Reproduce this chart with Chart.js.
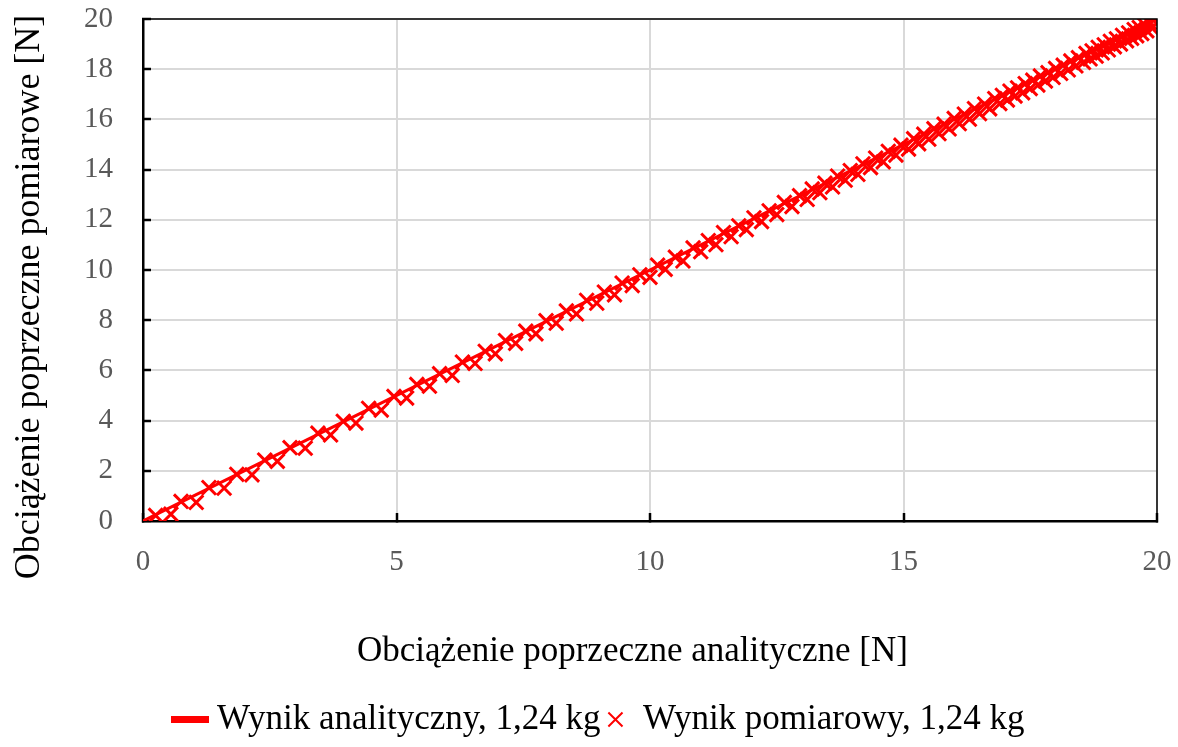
<!DOCTYPE html>
<html>
<head>
<meta charset="utf-8">
<script src="https://cdn.jsdelivr.net/npm/chart.js@4/dist/chart.umd.min.js"></script>
<style>
  html, body { margin: 0; padding: 0; background: #fff; }
  #wrap { width: 1178px; height: 747px; }
</style>
</head>
<body>
<div id="wrap"><canvas id="myChart"></canvas></div>
<script>
// analytical result: straight line y = x
var analyticX = [0, 20];
var analyticY = [0, 20];

// measured points, loading pass
var loadX = [0.25, 0.75, 1.3, 1.85, 2.4, 2.9, 3.45, 3.95, 4.45, 4.95, 5.4, 5.85, 6.3, 6.75, 7.15, 7.55, 7.95, 8.35, 8.75, 9.1,
  9.45, 9.8, 10.15, 10.5, 10.85, 11.15, 11.45, 11.75, 12.05, 12.35, 12.65, 12.95, 13.2, 13.45, 13.7, 13.95, 14.2, 14.45, 14.7, 14.95,
  15.2, 15.4, 15.6, 15.8, 16.0, 16.2, 16.4, 16.6, 16.8, 16.95, 17.1, 17.25, 17.4, 17.55, 17.7, 17.85, 18.0, 18.15, 18.3, 18.45,
  18.6, 18.72, 18.84, 18.96, 19.08, 19.2, 19.32, 19.44, 19.55, 19.65, 19.75, 19.85, 19.93];
var loadY = [0.22, 0.78, 1.33, 1.86, 2.43, 2.92, 3.5, 3.97, 4.49, 4.96, 5.44, 5.87, 6.33, 6.76, 7.19, 7.56, 7.98, 8.37, 8.79, 9.12,
  9.48, 9.81, 10.19, 10.51, 10.88, 11.17, 11.49, 11.76, 12.08, 12.36, 12.69, 12.96, 13.23, 13.46, 13.74, 13.96, 14.23, 14.46, 14.73, 14.97,
  15.23, 15.41, 15.63, 15.81, 16.04, 16.21, 16.43, 16.61, 16.83, 16.96, 17.13, 17.26, 17.43, 17.56, 17.73, 17.86, 18.03, 18.16, 18.33, 18.46,
  18.63, 18.73, 18.87, 18.97, 19.11, 19.21, 19.35, 19.45, 19.58, 19.66, 19.78, 19.86, 19.95];

// measured points, unloading pass
var unloadX = [19.9, 19.8, 19.7, 19.6, 19.5, 19.4, 19.28, 19.16, 19.04, 18.92, 18.8, 18.68, 18.55, 18.4, 18.25, 18.1, 17.95, 17.8, 17.65, 17.5,
  17.35, 17.2, 17.05, 16.9, 16.7, 16.5, 16.3, 16.1, 15.9, 15.7, 15.5, 15.3, 15.1, 14.85, 14.6, 14.35, 14.1, 13.85, 13.6, 13.35,
  13.1, 12.8, 12.5, 12.2, 11.9, 11.6, 11.3, 11.0, 10.65, 10.3, 10.0, 9.65, 9.3, 8.95, 8.55, 8.15, 7.75, 7.35, 6.95, 6.55,
  6.1, 5.65, 5.2, 4.7, 4.2, 3.7, 3.2, 2.65, 2.15, 1.6, 1.05, 0.55];
var unloadY = [19.64, 19.53, 19.42, 19.33, 19.23, 19.13, 19.0, 18.89, 18.77, 18.65, 18.52, 18.41, 18.27, 18.13, 17.97, 17.83, 17.67, 17.53, 17.37, 17.23,
  17.06, 16.93, 16.77, 16.63, 16.42, 16.23, 16.01, 15.83, 15.62, 15.43, 15.21, 15.03, 14.82, 14.58, 14.31, 14.08, 13.81, 13.58, 13.31, 13.08,
  12.81, 12.53, 12.21, 11.93, 11.61, 11.33, 11.01, 10.73, 10.36, 10.03, 9.71, 9.38, 9.01, 8.68, 8.25, 7.88, 7.46, 7.08, 6.66, 6.28,
  5.8, 5.37, 4.9, 4.42, 3.9, 3.43, 2.9, 2.38, 1.84, 1.31, 0.74, 0.27];

var seriesNames = ['Wynik analityczny, 1,24 kg', 'Wynik pomiarowy, 1,24 kg'];
// trailing spaces nudge the centred titles along their axis
var xTitle = 'Obciążenie poprzeczne analityczne [N]    ';
var yTitle = 'Obciążenie poprzeczne pomiarowe [N]      ';

function toPoints(xs, ys) {
  var pts = [];
  xs.forEach((x, i) => pts.push({x: x, y: ys[i]}));
  return pts;
}

var measured = toPoints(loadX, loadY).concat(toPoints(unloadX, unloadY));
var analytic = toPoints(analyticX, analyticY);

var red = 'rgb(255, 0, 0)';
var tickGray = '#595959';
var serif = "'Liberation Serif', 'Times New Roman', serif";

// legend swatch for the analytical line: a short thick bar
var lineSwatch = document.createElement('canvas');
lineSwatch.width = 38;
lineSwatch.height = 7;
var sw = lineSwatch.getContext('2d');
sw.fillStyle = red;
sw.fillRect(0, 0, 38, 7);

// thin black frame on the top and right side of the plot area
const frame = {
  id: 'frame',
  afterDraw(chart) {
    const a = chart.chartArea;
    const c = chart.ctx;
    c.save();
    c.strokeStyle = '#000';
    c.lineWidth = 1.5;
    c.beginPath();
    c.moveTo(a.left, a.top);
    c.lineTo(a.right, a.top);
    c.lineTo(a.right, a.bottom);
    c.stroke();
    c.restore();
  }
};

const ctx = document.getElementById('myChart').getContext('2d');
const myChart = new Chart(ctx, {
  type: 'scatter',
  data: {
    datasets: [{
      label: seriesNames[0],
      data: analytic,
      showLine: true,
      borderColor: red,
      backgroundColor: red,
      borderWidth: 3,
      pointRadius: 0,
      order: 2
    }, {
      label: seriesNames[1],
      data: measured,
      borderColor: red,
      backgroundColor: red,
      pointStyle: 'crossRot',
      pointRadius: 10,
      pointBorderWidth: 3,
      order: 1
    }]
  },
  options: {
    responsive: true,
    maintainAspectRatio: false,
    animation: false,
    layout: { padding: { top: 19, left: 26, right: 0, bottom: 0 } },
    plugins: {
      tooltip: { enabled: false },
      legend: {
        position: 'bottom',
        labels: {
          usePointStyle: true,
          pointStyleWidth: 20,
          boxHeight: 14,
          padding: 5,
          color: '#000',
          font: { family: serif, size: 35 },
          generateLabels: function(chart) {
            return chart.data.datasets.map((ds, i) => ({
              text: ds.label,
              datasetIndex: i,
              fillStyle: red,
              strokeStyle: red,
              lineWidth: 2,
              pointStyle: i === 0 ? lineSwatch : 'crossRot',
              fontColor: '#000',
              hidden: false
            }));
          }
        }
      }
    },
    scales: {
      x: {
        type: 'linear',
        min: 0,
        max: 20,
        afterFit: function(scale) {
          scale.height = 176;
          scale.paddingLeft = 0;
          scale.paddingRight = 0;
        },
        ticks: {
          stepSize: 5,
          padding: 32,
          color: tickGray,
          font: { family: serif, size: 29 }
        },
        grid: {
          color: '#d9d9d9',
          lineWidth: 2,
          tickLength: -8,
          tickColor: '#000',
          tickWidth: 2.5
        },
        border: { color: '#000', width: 2.5 },
        title: {
          display: true,
          text: xTitle,
          color: '#000',
          font: { family: serif, size: 35 },
          padding: { top: 0, bottom: 24 }
        }
      },
      y: {
        type: 'linear',
        min: 0,
        max: 20,
        afterFit: function(scale) {
          scale.width = 117;
          scale.paddingTop = 0;
          scale.paddingBottom = 0;
        },
        ticks: {
          stepSize: 2,
          padding: 38,
          color: tickGray,
          font: { family: serif, size: 29 }
        },
        grid: {
          color: '#d9d9d9',
          lineWidth: 2,
          tickLength: -8,
          tickColor: '#000',
          tickWidth: 2.5
        },
        border: { color: '#000', width: 2.5 },
        title: {
          display: true,
          text: yTitle,
          color: '#000',
          font: { family: serif, size: 36 },
          padding: { top: -18, bottom: 0 }
        }
      },
      y2: {
        type: 'linear',
        position: 'right',
        min: 0,
        max: 20,
        afterFit: function(scale) { scale.width = 21; },
        ticks: { display: false },
        grid: { display: false, drawTicks: false },
        border: { display: false }
      }
    }
  },
  plugins: [frame]
});
</script>
</body>
</html>
